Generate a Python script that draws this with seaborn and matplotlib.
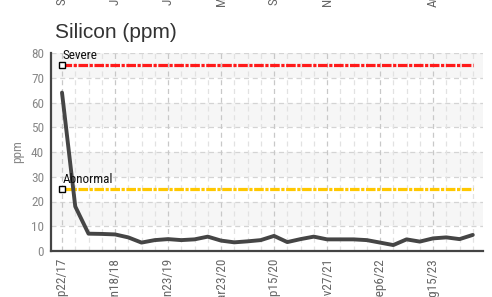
import matplotlib
matplotlib.use("Agg")
import matplotlib.pyplot as plt
from matplotlib import font_manager
import seaborn as sns
import pandas as pd
import numpy as np

# ---- data ----
silicon_ppm = [64, 18, 7, 6.9, 6.7, 5.5, 3.4, 4.4, 4.8, 4.4, 4.7, 5.8, 4.2, 3.5,
               3.9, 4.4, 6.1, 3.6, 4.8, 5.8, 4.7, 4.7, 4.7, 4.4, 3.4, 2.4, 4.7,
               3.8, 5.1, 5.5, 4.8, 6.5]
tick_labels = ["Sep22/17", "Jan18/18", "Jun23/19", "Mar23/20", "Sep15/20",
               "Nov27/21", "Sep6/22", "Aug15/23"]
tick_every = 4
severe_level = 75
abnormal_level = 25
y_ticks = [0, 10, 20, 30, 40, 50, 60, 70, 80]

sns.set_style("white")
available = {f.name for f in font_manager.fontManager.ttflist}
narrow = None
for cand in ["Liberation Sans Narrow", "Roboto Condensed", "DejaVu Sans Condensed"]:
    if cand in available:
        narrow = cand
        break
base_family = ["Liberation Sans", "DejaVu Sans"]
narrow_family = [narrow, "DejaVu Sans"] if narrow else ["DejaVu Sans"]
plt.rcParams["font.family"] = base_family

df = pd.DataFrame({"idx": np.arange(len(silicon_ppm)), "ppm": silicon_ppm})

W, H = 492, 297
fig = plt.figure(figsize=(W / 100, H / 100), dpi=100)
ax = fig.add_axes([51 / W, 1 - 251 / H, (483 - 51) / W, (251 - 53) / H])

n = len(silicon_ppm)
ax.set_xlim(-0.83, n - 1 + 0.77)
ax.set_ylim(0, 80)

# alternating bands
for lo in range(10, 80, 20):
    ax.axhspan(lo, lo + 10, color="#f6f6f6", zorder=0, lw=0)

# grid
for yv in y_ticks[1:]:
    ax.axhline(yv, color="#d4d4d4", lw=0.9, ls=(0, (4, 3)), zorder=1)
for i in range(n + 1):
    major = (i % tick_every == 0)
    ax.axvline(i, color="#c8c8c8" if major else "#e2e2e2", lw=0.9,
               ls=(0, (4, 3)), zorder=1)

# threshold lines
for level, color, name in [(severe_level, "#ff1a1a", "Severe"),
                           (abnormal_level, "#ffc800", "Abnormal")]:
    ax.plot([0, n - 1], [level, level], color=color, lw=2.3,
            ls=(0, (3, 0.5, 1, 0.5)), zorder=3)
    ax.plot([0], [level], marker="s", ms=4.2, mfc="white", mec="black",
            mew=1.0, zorder=4, ls="none")
    ax.text(0.02, level + 1.2, name, fontsize=9.5, color="#111111",
            family=narrow_family, ha="left", va="bottom", zorder=5)

sns.lineplot(data=df, x="idx", y="ppm", ax=ax, color="#454545", lw=2.8,
             zorder=4, legend=False)

ax.set_xlabel("")
ax.set_ylabel("ppm", fontsize=9.5, color="#888888", family=narrow_family, labelpad=5)

ax.set_yticks(y_ticks)
ax.set_yticklabels([str(v) for v in y_ticks], family=narrow_family,
                   fontsize=9.5, color="#888888")
xt = list(range(0, n, tick_every))
ax.set_xticks(xt)
ax.set_xticklabels(tick_labels, rotation=90, family=narrow_family,
                   fontsize=9.5, color="#666666")
ax.tick_params(axis="both", direction="inout", length=6, width=1.2,
               color="#333333", pad=2)

for s in ["top", "right"]:
    ax.spines[s].set_visible(False)
for s in ["left", "bottom"]:
    ax.spines[s].set_color("#444444")
    ax.spines[s].set_linewidth(1.6)

fig.text(55 / W, 1 - 38 / H, "Silicon (ppm)", fontsize=15, color="#333333",
         ha="left", va="baseline")

# remnants of the tick labels of the chart above (cropped at the top edge)
fig.canvas.draw()
renderer = fig.canvas.get_renderer()
lab = ax.get_xticklabels()[0]
L = lab.get_window_extent(renderer).height
for i, t in zip(xt, tick_labels):
    xpix = ax.transData.transform((i, 0))[0]
    top_pix = H - (5 - L)  # display coords from bottom
    fig.text(xpix / W, top_pix / H, t, rotation=90, ha="center", va="top",
             family=narrow_family, fontsize=9.5, color="#666666")

fig.savefig("out.png", dpi=100)
